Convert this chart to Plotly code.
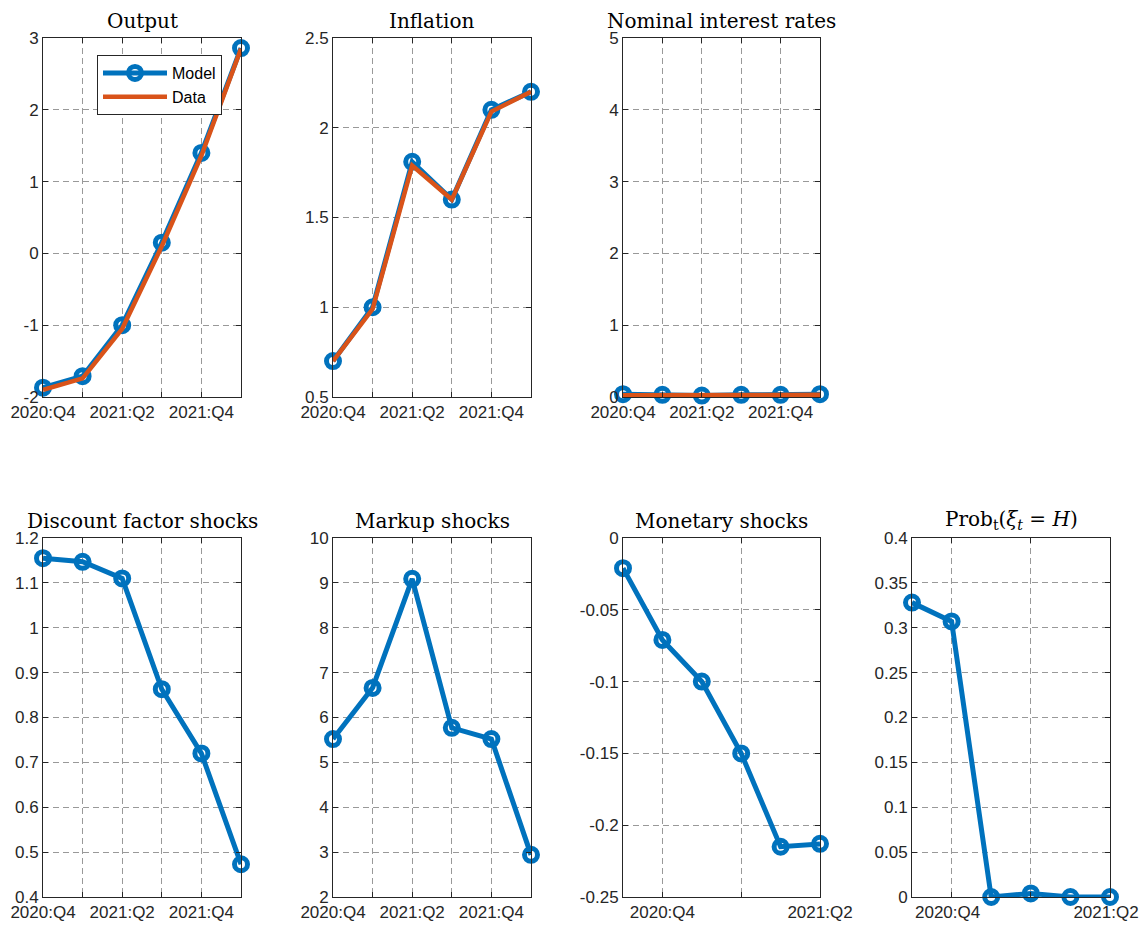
import plotly.graph_objects as go

# ---------------- data ----------------
periods = [0, 1, 2, 3, 4, 5]   # 2020:Q4 ... 2022:Q1

output_model = [-1.87, -1.71, -1.00, 0.15, 1.40, 2.86]
output_data = [-1.90, -1.74, -1.05, 0.10, 1.36, 2.85]

inflation_model = [0.70, 1.00, 1.81, 1.60, 2.10, 2.20]
inflation_data = [0.70, 0.99, 1.79, 1.60, 2.09, 2.20]

nominal_model = [0.04, 0.03, 0.02, 0.03, 0.03, 0.04]
nominal_data = [0.025, 0.025, 0.02, 0.025, 0.025, 0.03]

discount_shocks = [1.155, 1.147, 1.110, 0.863, 0.720, 0.473]
markup_shocks = [5.52, 6.66, 9.09, 5.77, 5.52, 2.94]
monetary_shocks = [-0.021, -0.071, -0.100, -0.150, -0.215, -0.213]
prob_high = [0.328, 0.307, 0.0, 0.004, 0.0, 0.0]

titles = ["Output", "Inflation", "Nominal interest rates",
          "Discount factor shocks", "Markup shocks", "Monetary shocks",
          "Prob<sub>t</sub>(<i>ξ<sub>t</sub></i> = <i>H</i>)"]

# x ticks
xt_vals_std = [0, 1, 2, 3, 4, 5]
xt_text_std = ["2020:Q4", "", "2021:Q2", "", "2021:Q4", ""]
xt_vals_alt = [1, 3, 5]
xt_text_alt = ["2020:Q4", "", "2021:Q2"]

# y ticks
yt_output = [-2, -1, 0, 1, 2, 3]
yt_output_txt = ["-2", "-1", "0", "1", "2", "3"]
yt_infl = [0.5, 1, 1.5, 2, 2.5]
yt_infl_txt = ["0.5", "1", "1.5", "2", "2.5"]
yt_nom = [0, 1, 2, 3, 4, 5]
yt_nom_txt = ["0", "1", "2", "3", "4", "5"]
yt_disc = [0.4, 0.5, 0.6, 0.7, 0.8, 0.9, 1.0, 1.1, 1.2]
yt_disc_txt = ["0.4", "0.5", "0.6", "0.7", "0.8", "0.9", "1", "1.1", "1.2"]
yt_mark = [2, 3, 4, 5, 6, 7, 8, 9, 10]
yt_mark_txt = ["2", "3", "4", "5", "6", "7", "8", "9", "10"]
yt_mon = [-0.25, -0.2, -0.15, -0.1, -0.05, 0]
yt_mon_txt = ["-0.25", "-0.2", "-0.15", "-0.1", "-0.05", "0"]
yt_prob = [0, 0.05, 0.1, 0.15, 0.2, 0.25, 0.3, 0.35, 0.4]
yt_prob_txt = ["0", "0.05", "0.1", "0.15", "0.2", "0.25", "0.3", "0.35", "0.4"]

# ---------------- styling ----------------
OFF = 8                       # default page body margin
FW, FH = 1148 - OFF, 925 - OFF
BLUE = "#0072BD"
ORANGE = "#D95319"
AXC = "#262626"
GRIDC = "#999999"
TICKFONT = dict(family="Liberation Sans, Arial, sans-serif", size=17, color=AXC)
TITLEFONT = dict(family="DejaVu Serif, serif", size=20, color="#000000")

col_px = [(43, 241), (333, 531), (623, 820), (912, 1110)]
row_px = [(38, 397), (538, 897)]

def px(X):
    return (X - OFF) / FW

def py(Y):
    return 1 - (Y - OFF) / FH

def xdom(c):
    return [px(col_px[c][0]), px(col_px[c][1])]

def ydom(r):
    return [py(row_px[r][1]), py(row_px[r][0])]

panels = [
    # (row, col, yrange, ytickvals, ytext, xtickvals, xtext, xlabelshift)
    (0, 0, [-2, 3], yt_output, yt_output_txt, xt_vals_std, xt_text_std, 0),
    (0, 1, [0.5, 2.5], yt_infl, yt_infl_txt, xt_vals_std, xt_text_std, 0),
    (0, 2, [0, 5], yt_nom, yt_nom_txt, xt_vals_std, xt_text_std, 0),
    (1, 0, [0.4, 1.2], yt_disc, yt_disc_txt, xt_vals_std, xt_text_std, 0),
    (1, 1, [2, 10], yt_mark, yt_mark_txt, xt_vals_std, xt_text_std, 0),
    (1, 2, [-0.25, 0], yt_mon, yt_mon_txt, xt_vals_alt, xt_text_alt, 0),
    (1, 3, [0, 0.4], yt_prob, yt_prob_txt, xt_vals_alt, xt_text_alt, -4),
]

model_series = [output_model, inflation_model, nominal_model,
                discount_shocks, markup_shocks, monetary_shocks, prob_high]
data_series = [output_data, inflation_data, nominal_data, None, None, None, None]

fig = go.Figure()
layout = dict(
    width=FW, height=FH, autosize=False,
    margin=dict(l=0, r=0, t=0, b=0, pad=0),
    paper_bgcolor="white", plot_bgcolor="white",
    showlegend=True,
    annotations=[],
)

for i, (r, c, yr, ytv, ytt, xtv, xtt, xshift) in enumerate(panels):
    n = i + 1
    xa = "x" if n == 1 else f"x{n}"
    ya = "y" if n == 1 else f"y{n}"
    fig.add_trace(go.Scatter(
        x=periods, y=model_series[i], xaxis=xa, yaxis=ya,
        mode="lines+markers", name="Model", showlegend=(n == 1),
        line=dict(color=BLUE, width=5),
        marker=dict(symbol="circle-open", size=13, color=BLUE, line=dict(width=5, color=BLUE)),
        cliponaxis=False,
    ))
    if data_series[i] is not None:
        fig.add_trace(go.Scatter(
            x=periods, y=data_series[i], xaxis=xa, yaxis=ya,
            mode="lines", name="Data", showlegend=(n == 1),
            line=dict(color=ORANGE, width=4.5),
            cliponaxis=False,
        ))
    axcommon = dict(
        showline=True, linecolor=AXC, linewidth=1, mirror="ticks",
        ticks="inside", ticklen=5, tickcolor=AXC, tickwidth=1,
        showgrid=True, gridcolor=GRIDC, griddash="6px,4px", gridwidth=1,
        zeroline=False, tickfont=TICKFONT, fixedrange=True, automargin=False,
    )
    layout["xaxis" if n == 1 else f"xaxis{n}"] = dict(
        axcommon, domain=xdom(c), range=[0, 5], anchor=ya,
        tickmode="array", tickvals=xtv, ticktext=xtt, ticklabelshift=xshift,
    )
    layout["yaxis" if n == 1 else f"yaxis{n}"] = dict(
        axcommon, domain=ydom(r), range=yr, anchor=xa,
        tickmode="array", tickvals=ytv, ticktext=ytt,
    )
    cx = px((col_px[c][0] + col_px[c][1]) / 2)
    ty = py(row_px[r][0] - 3)
    layout["annotations"].append(dict(
        text=titles[i], x=cx, y=ty, xref="paper", yref="paper",
        xanchor="center", yanchor="bottom", showarrow=False, font=TITLEFONT,
    ))

layout["legend"] = dict(
    x=px(97), y=py(55), xanchor="left", yanchor="top",
    bgcolor="white", bordercolor=AXC, borderwidth=1,
    font=dict(family="Liberation Sans, Arial, sans-serif", size=16, color="#000000"),
    tracegroupgap=0, itemwidth=64,
)

fig.update_layout(**layout)
fig.write_html("out.html")
